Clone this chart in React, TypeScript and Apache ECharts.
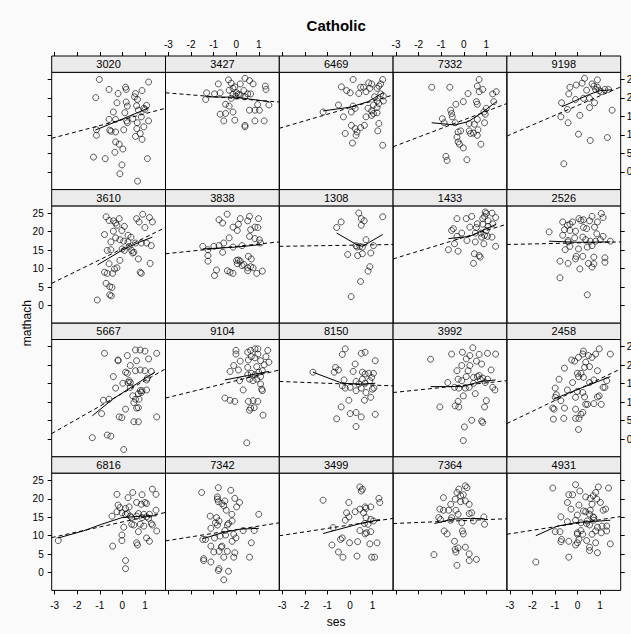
import React, { useEffect, useRef } from "react";
import * as echarts from "echarts";

// ---- data ----
const schools = ["3020","3427","6469","7332","9198","3610","3838","1308","1433","2526","5667","9104","8150","3992","2458","6816","7342","3499","7364","4931"];
const xTicks = [-3, -2, -1, 0, 1];
const yTicks = [0, 5, 10, 15, 20, 25];

const p3020 = [[-1.02,25.0],[1.16,24.3],[-0.59,22.3],[0.14,22.9],[0.17,22.3],[-0.19,21.2],[0.58,21.2],[0.87,22.0],[0.54,20.3],[-1.18,20.1],[0.67,19.6],[-0.24,18.7],[0.17,18.9],[0.22,17.8],[1.07,18.0],[0.63,17.9],[0.71,16.7],[0.95,17.2],[-0.40,16.2],[0.11,16.0],[1.0,16.9],[-0.59,14.2],[-0.30,14.2],[0.84,14.9],[0.46,14.4],[0.19,13.8],[0.22,13.3],[1.16,13.8],[0.66,13.3],[-1.15,11.4],[-0.56,11.3],[0.06,11.4],[0.95,12.2],[-1.15,9.9],[-0.30,10.8],[0.64,11.7],[0.79,10.4],[0.58,9.6],[0.87,8.8],[-0.30,8.1],[-0.14,7.5],[0.02,6.2],[-0.33,5.3],[-1.28,4.0],[-0.76,3.6],[1.11,3.6],[-0.02,1.9],[-0.11,-0.5],[0.67,-2.5],[-0.50,11.0]];
const p3427 = [[-0.34,24.9],[0.39,25.3],[0.59,24.7],[0.75,23.8],[-0.22,24.0],[-0.79,23.8],[-0.14,22.6],[-0.06,23.0],[0.18,23.8],[1.29,23.2],[1.32,22.3],[-1.31,21.4],[-0.96,21.1],[-0.71,21.4],[-0.31,22.1],[0.02,21.4],[0.34,22.0],[0.51,21.1],[0.64,21.1],[-1.35,19.6],[-0.22,19.9],[-0.01,20.5],[0.18,20.8],[0.38,20.3],[-0.47,18.3],[-0.31,17.8],[0.95,18.2],[1.45,18.1],[0.59,16.7],[0.83,16.7],[1.03,16.7],[-0.71,15.6],[-0.47,15.8],[-0.14,16.2],[-0.55,13.8],[-0.06,14.0],[0.39,12.6],[0.39,12.2],[0.83,13.8],[1.24,13.8],[0.10,21.0],[-0.14,21.0]];
const p6469 = [[0.14,25.0],[1.45,25.0],[0.83,24.1],[0.96,23.8],[1.36,23.8],[-0.38,23.0],[-0.15,22.0],[0.01,21.4],[0.47,22.9],[0.60,22.9],[0.39,21.2],[0.71,21.7],[0.88,22.6],[1.20,22.6],[1.28,23.2],[1.09,20.3],[1.36,21.1],[1.48,20.5],[1.20,19.2],[1.28,18.5],[1.48,19.2],[1.04,18.1],[-0.51,18.1],[0.14,17.8],[0.23,17.2],[0.80,17.2],[0.96,16.5],[1.04,15.8],[1.20,16.0],[-1.19,16.2],[0.06,16.2],[-0.29,14.9],[0.71,14.9],[0.06,12.6],[0.23,11.7],[0.47,12.0],[0.31,10.8],[0.27,9.9],[-0.21,10.4],[0.64,12.6],[1.28,13.1],[1.23,11.1],[0.11,7.8],[1.45,7.2],[1.20,17.4],[0.96,15.3]];
const p7332 = [[0.68,25.0],[-1.42,22.9],[-0.62,22.9],[0.60,23.2],[0.84,22.3],[0.19,21.2],[0.68,21.7],[1.44,21.7],[1.28,21.1],[0.56,19.0],[0.60,18.3],[-0.02,19.0],[-0.35,18.3],[-0.58,16.7],[-0.54,15.8],[-0.51,14.9],[-0.95,14.4],[-0.87,13.3],[-0.38,13.3],[1.33,19.0],[1.00,17.2],[0.89,16.2],[0.95,15.6],[0.60,14.2],[0.47,12.9],[0.24,13.1],[0.92,13.3],[-0.25,10.8],[-0.14,11.1],[0.24,11.1],[0.30,10.4],[0.43,10.5],[0.63,11.4],[0.60,9.9],[-0.30,9.4],[-0.25,8.1],[-0.19,7.5],[-0.02,6.5],[0.76,7.5],[-0.79,4.2],[-0.74,3.1],[0.14,3.3]];
const p9198 = [[0.31,25.3],[0.88,24.9],[-0.06,23.5],[-0.34,22.9],[0.20,24.0],[0.64,23.8],[0.72,23.2],[0.80,22.3],[0.96,22.0],[1.21,22.3],[1.37,22.3],[-0.39,21.1],[0.26,19.9],[0.53,19.9],[-0.09,19.6],[0.75,18.7],[-0.71,18.7],[-0.45,16.9],[0.53,17.4],[1.53,16.7],[-0.74,14.9],[0.10,15.3],[-0.42,13.3],[0.04,10.2],[0.56,8.5],[1.32,9.3],[-0.61,2.2],[0.88,22.9],[1.04,21.7],[0.40,22.1]];
const p3610 = [[-0.72,24.0],[-0.59,23.0],[-0.40,22.9],[-0.30,22.3],[-0.14,23.5],[-0.24,21.7],[0.09,21.4],[-0.02,20.3],[-0.79,19.2],[-0.40,20.1],[0.25,19.0],[0.38,18.5],[-0.30,18.3],[-0.11,17.8],[0.06,17.4],[-0.51,17.2],[0.25,17.2],[0.63,23.5],[0.74,22.6],[0.90,24.7],[1.20,23.8],[1.33,22.6],[1.0,21.1],[0.84,16.9],[1.07,16.9],[1.28,16.2],[-0.67,14.9],[-0.51,15.1],[-0.01,15.3],[0.41,14.9],[0.51,14.4],[0.46,14.2],[-0.11,12.2],[0.71,12.6],[1.23,11.4],[-0.59,11.3],[-0.79,9.0],[-0.67,8.7],[-0.43,8.7],[-0.35,9.9],[-0.24,10.2],[0.79,9.0],[0.84,8.7],[-0.72,6.0],[-0.56,5.1],[-0.46,4.9],[-0.56,2.9],[-0.49,2.6],[-1.11,1.5],[0.30,16.0],[0.58,16.9],[0.09,14.9]];
const p3838 = [[-0.76,23.2],[-0.60,22.3],[-0.40,24.7],[0.18,23.5],[0.59,24.1],[0.51,22.9],[0.99,23.5],[0.10,22.0],[-0.14,21.2],[0.05,20.3],[0.64,20.5],[0.83,21.2],[0.96,21.1],[-0.31,18.3],[0.59,18.7],[0.83,18.1],[1.03,17.8],[1.08,16.9],[-1.48,16.0],[-1.25,15.1],[-0.99,16.0],[-0.76,16.2],[-0.55,16.9],[-1.25,13.5],[-1.25,12.0],[-0.60,14.4],[-0.14,15.8],[0.26,16.2],[0.54,13.3],[0.67,12.6],[0.02,12.2],[0.10,12.3],[0.18,12.0],[0.26,10.8],[0.34,11.1],[0.51,10.2],[0.64,10.5],[0.75,10.2],[0.51,9.4],[0.91,8.7],[1.16,9.3],[-0.87,9.6],[-0.96,8.1],[-0.39,9.4],[-0.27,9.0],[-0.14,8.7],[0.05,11.3]];
const p1308 = [[0.39,25.0],[1.45,24.0],[0.50,23.5],[0.63,22.9],[-0.39,22.6],[-0.59,21.1],[0.50,21.7],[0.27,16.2],[0.44,16.0],[0.55,15.8],[0.71,17.8],[1.04,16.2],[-0.10,13.8],[0.34,13.5],[0.55,14.0],[0.92,14.2],[0.88,10.5],[0.80,9.3],[0.47,6.5],[0.05,2.4],[0.31,15.8]];
const p1433 = [[0.95,25.3],[1.25,25.0],[0.92,24.1],[1.41,23.8],[0.35,24.1],[0.11,23.5],[-0.30,23.5],[1.28,22.1],[0.84,22.0],[1.08,21.4],[-0.46,20.8],[-0.54,20.3],[0.27,21.2],[0.56,21.1],[1.00,20.3],[0.76,19.6],[1.25,18.5],[1.05,18.7],[0.92,19.0],[0.79,18.5],[0.51,19.6],[-0.09,19.6],[-0.30,18.7],[0.14,17.6],[0.51,17.2],[0.89,16.7],[-0.41,16.7],[1.41,16.0],[-0.68,15.1],[-0.25,14.7],[0.47,14.0],[0.73,13.1],[0.68,13.5],[0.43,11.4],[0.84,23.5],[1.08,22.9],[0.60,22.1],[1.00,24.9]];
const p2526 = [[1.05,24.9],[0.64,24.1],[0.15,23.0],[0.26,23.2],[0.53,22.9],[0.88,22.6],[1.13,23.8],[-0.66,22.6],[-0.45,21.7],[-0.34,22.0],[-0.22,22.6],[-1.26,19.9],[-0.58,20.5],[-0.34,20.3],[-0.09,20.1],[0.26,21.1],[0.40,20.8],[0.75,21.2],[-0.66,19.0],[-0.42,17.6],[-0.13,18.3],[0.23,18.5],[0.36,17.8],[0.56,17.4],[0.80,17.4],[1.01,17.8],[1.13,18.7],[1.45,17.4],[-0.42,17.2],[-0.55,15.1],[-0.34,16.0],[0.04,15.3],[0.43,15.8],[0.64,16.2],[-0.06,13.3],[0.23,13.3],[0.72,13.1],[-0.78,12.0],[-0.42,11.4],[-0.09,12.6],[0.48,11.4],[0.72,11.3],[1.21,12.9],[1.21,11.7],[0.10,9.9],[0.64,10.4],[-0.78,7.5],[0.43,2.9],[0.06,23.5],[0.85,19.4]];
const p5667 = [[-0.79,23.2],[-0.19,21.4],[-0.19,21.2],[0.22,22.6],[0.58,24.1],[0.79,24.1],[1.0,23.8],[1.16,21.7],[1.52,23.2],[0.63,21.2],[0.35,19.9],[0.58,18.5],[0.22,17.8],[0.14,18.1],[0.79,18.7],[1.0,18.5],[1.28,18.3],[-0.40,16.9],[0.30,15.8],[0.35,15.3],[0.02,15.1],[0.25,15.3],[1.11,16.5],[1.07,16.0],[-0.30,13.8],[0.35,14.0],[0.79,13.1],[1.07,13.3],[0.71,12.3],[0.84,12.6],[0.46,11.7],[0.58,10.8],[0.74,10.8],[0.51,9.9],[0.71,8.5],[0.63,8.4],[0.14,8.1],[-0.84,10.5],[-0.59,10.8],[-0.92,6.9],[-0.14,6.0],[-0.02,5.8],[0.51,4.7],[0.71,4.7],[1.52,6.0],[-1.33,0.4],[-0.67,1.1],[-0.51,0.8],[0.06,-2.8],[0.87,13.1]];
const p9104 = [[-0.01,24.0],[-0.01,23.0],[0.51,23.5],[0.64,24.0],[0.83,24.4],[0.96,24.4],[1.40,24.0],[0.67,22.3],[0.83,22.0],[0.18,21.1],[0.54,21.4],[1.08,21.2],[1.45,20.8],[-0.11,19.9],[-0.27,18.3],[0.10,18.7],[0.51,19.4],[0.91,19.6],[1.24,20.1],[0.67,17.8],[0.51,17.4],[0.83,17.4],[1.00,18.1],[1.08,16.9],[0.91,16.2],[0.15,15.8],[0.59,16.2],[0.75,15.8],[1.08,14.9],[1.13,13.5],[1.16,13.1],[0.31,13.3],[-0.50,11.1],[-0.27,10.5],[-0.06,10.2],[0.54,10.2],[0.75,10.4],[0.96,10.2],[0.64,8.4],[0.59,7.8],[0.80,8.5],[1.19,6.5],[0.47,-1.0],[1.32,22.3],[0.96,23.0],[1.16,18.5]];
const p8150 = [[-0.21,24.4],[-0.34,22.9],[0.50,23.2],[0.67,23.5],[-1.64,18.1],[-0.64,19.4],[-0.70,18.1],[-0.51,18.7],[0.23,20.3],[1.12,21.2],[0.14,18.3],[0.55,18.1],[0.67,17.6],[0.83,17.8],[1.04,17.8],[0.96,16.7],[-0.26,16.0],[-0.34,14.4],[-0.21,13.8],[0.27,15.6],[0.39,14.9],[0.50,13.8],[0.27,13.1],[0.67,15.1],[0.71,12.6],[0.99,13.5],[1.06,13.8],[-0.05,10.5],[0.64,10.5],[0.92,11.3],[-0.39,8.7],[0.01,6.9],[0.27,7.2],[0.50,6.0],[1.12,6.7],[-0.59,5.5],[0.27,3.4],[0.88,15.8],[0.55,16.2],[0.01,14.0]];
const p3992 = [[0.40,24.7],[-1.47,21.6],[-0.54,23.0],[-0.06,23.5],[0.27,22.6],[0.68,22.9],[1.05,23.2],[1.41,23.0],[0.11,21.7],[-0.09,19.9],[0.56,21.1],[0.79,20.3],[1.21,18.7],[0.19,18.5],[-0.30,18.5],[-0.71,15.3],[-0.25,16.2],[-0.09,15.8],[0.11,16.9],[0.43,16.7],[0.60,16.9],[0.73,16.2],[0.84,16.5],[1.05,16.2],[0.68,17.2],[-0.41,14.0],[-0.22,13.8],[0.24,14.0],[0.51,12.3],[0.07,13.8],[-0.02,11.7],[-0.25,10.2],[-0.38,9.0],[-0.22,8.7],[1.00,10.4],[0.92,8.7],[-1.06,8.7],[1.38,13.3],[1.28,14.0],[0.03,3.3],[0.35,5.1],[0.79,4.9],[0.84,4.5],[-0.02,-0.4],[0.27,19.9],[0.95,15.3],[0.43,15.1]];
const p2458 = [[0.26,23.8],[0.23,23.0],[0.96,24.4],[0.80,23.0],[1.45,23.0],[0.04,22.1],[-0.13,21.1],[0.48,22.6],[0.36,20.8],[-0.26,21.4],[0.31,19.4],[0.53,19.6],[-0.58,19.2],[-0.01,17.8],[0.15,17.8],[0.88,18.5],[-0.82,16.2],[-0.99,13.8],[0.04,16.9],[0.26,16.7],[-0.22,15.3],[0.53,15.3],[0.72,16.0],[1.29,15.8],[1.21,14.0],[1.13,14.0],[0.96,11.7],[0.88,11.4],[-0.94,12.0],[-0.99,11.3],[-0.45,13.3],[-0.01,12.9],[0.23,12.6],[-0.09,11.3],[0.31,11.4],[0.44,9.4],[0.72,9.6],[1.05,9.4],[-1.10,8.4],[-1.04,8.1],[-0.58,8.4],[-0.09,8.1],[0.23,7.2],[0.36,9.4],[0.15,6.7],[-1.07,5.4],[-0.61,5.6],[-0.09,5.6],[0.06,5.6],[0.04,2.6],[0.64,22.1],[-0.74,10.4]];
const p6816 = [[-2.84,8.7],[-0.24,21.2],[0.25,20.3],[0.46,21.7],[0.87,21.1],[1.33,22.6],[1.49,21.2],[-0.19,18.3],[-0.11,17.6],[0.14,17.4],[0.30,17.8],[0.63,19.0],[0.84,18.5],[1.0,19.0],[1.07,18.7],[1.49,16.9],[-0.46,15.3],[-0.24,16.5],[-0.02,16.2],[0.14,15.8],[0.35,15.3],[0.41,14.9],[0.63,15.3],[0.71,16.0],[0.87,14.9],[1.07,15.1],[1.20,15.8],[1.16,14.7],[0.41,13.1],[0.51,12.9],[0.79,13.1],[0.06,12.3],[0.95,12.6],[1.28,13.3],[1.33,12.9],[0.71,11.1],[1.52,11.3],[-0.02,10.2],[-0.02,8.7],[1.07,9.4],[1.20,8.5],[0.63,8.1],[0.67,7.5],[-0.43,7.2],[0.14,3.3],[0.14,1.1],[0.22,16.0],[0.95,15.8]];
const p7342 = [[-0.79,23.0],[-1.53,21.7],[-0.24,22.3],[-0.83,20.5],[-0.83,19.9],[-0.79,19.2],[-0.50,19.4],[-0.63,18.7],[-0.55,18.1],[-0.06,20.1],[0.15,19.0],[0.02,17.8],[-0.44,16.9],[1.0,15.8],[-0.19,15.8],[-1.15,15.3],[-0.87,14.9],[-0.76,14.0],[-0.92,13.5],[-0.83,12.9],[-0.34,13.3],[-0.39,12.9],[-0.18,14.0],[-1.12,12.0],[-0.50,11.4],[0.31,11.4],[0.80,11.4],[-1.36,9.0],[-0.96,9.4],[-0.71,9.9],[-0.47,10.2],[-0.11,10.4],[-0.01,9.4],[-0.18,8.5],[-1.48,9.0],[0.67,8.1],[-1.12,7.2],[-0.66,6.9],[-0.63,7.2],[-0.99,5.6],[-0.76,5.8],[-0.39,5.8],[-0.06,5.4],[-0.55,4.2],[-0.11,4.2],[-1.44,3.8],[-1.44,3.3],[-1.12,2.9],[0.59,4.2],[-0.76,1.1],[-0.79,0.6],[-0.34,0.4],[-0.55,-1.9]];
const p3499 = [[0.44,23.2],[0.55,22.6],[0.50,22.1],[-1.19,19.6],[-0.05,19.0],[1.28,20.1],[1.32,19.0],[0.67,17.8],[0.71,17.4],[0.92,17.8],[0.44,17.2],[-0.15,16.2],[-0.21,14.2],[-0.05,15.1],[0.71,14.9],[0.92,14.4],[1.04,14.0],[0.64,13.3],[0.80,13.1],[0.92,11.1],[0.67,10.5],[0.73,10.8],[-0.75,12.2],[-0.42,9.0],[0.44,11.4],[-0.02,8.1],[-0.34,9.4],[-0.80,7.5],[-0.51,5.6],[-0.31,4.2],[0.31,4.5],[0.34,8.4],[0.88,7.8],[1.20,8.1],[0.96,4.2],[1.09,4.2],[0.23,16.5],[0.60,16.2]];
const p7364 = [[0.07,23.5],[0.14,23.0],[-0.22,22.6],[-0.30,21.7],[-0.14,20.8],[-0.02,21.1],[-0.38,19.9],[-0.58,18.5],[-0.90,20.3],[-1.06,17.2],[-0.90,16.9],[-0.67,16.9],[-0.14,19.2],[0.07,19.4],[0.24,18.5],[-0.25,15.8],[0.24,16.0],[0.35,16.2],[0.89,15.1],[0.92,13.1],[0.43,14.0],[-0.09,13.5],[-1.11,14.9],[-1.03,14.4],[-0.54,14.9],[-0.87,11.3],[-0.74,10.5],[-0.06,11.3],[-0.02,10.5],[-0.41,8.5],[-0.38,6.3],[-0.25,6.7],[-0.35,5.6],[0.07,6.9],[0.24,5.1],[0.56,3.6],[0.24,3.3],[-0.30,2.0],[-1.32,4.9],[-0.58,14.2],[-0.35,16.9]];
const p4931 = [[-0.09,23.8],[-1.10,22.9],[-0.39,21.1],[-0.22,21.1],[0.10,22.1],[0.92,23.2],[1.37,22.9],[0.80,21.7],[0.36,20.5],[0.69,20.8],[-0.45,19.0],[0.06,18.3],[0.56,20.1],[0.85,19.9],[1.01,19.0],[0.56,16.9],[-0.29,17.2],[-0.01,15.6],[0.26,16.7],[0.36,16.5],[0.53,15.8],[0.72,14.9],[0.69,15.1],[1.13,16.9],[1.24,17.2],[-0.74,15.1],[-0.45,13.8],[-0.09,14.2],[0.15,13.5],[0.40,13.3],[0.53,12.9],[0.72,14.2],[0.88,12.3],[1.08,12.6],[1.29,12.6],[1.29,11.3],[0.80,11.3],[0.15,11.4],[-0.01,10.8],[0.23,10.4],[0.64,10.4],[1.05,10.8],[-0.78,11.1],[-0.71,9.0],[-0.74,8.4],[-0.39,8.5],[-0.01,10.4],[0.06,9.0],[-0.01,8.1],[-0.09,7.5],[0.40,8.7],[0.53,6.9],[0.80,8.1],[1.45,7.8],[0.53,6.0],[0.88,5.4],[-0.39,4.2],[-1.85,2.9],[-0.99,11.1],[0.64,18.5],[0.43,14.0]];

const points = [p3020,p3427,p6469,p7332,p9198,p3610,p3838,p1308,p1433,p2526,p5667,p9104,p8150,p3992,p2458,p6816,p7342,p3499,p7364,p4931];

// smooth (solid) curves per school
const smooths = [
  [[-1.2,11.3],[0,14.3],[1.16,17.3]],
  [[-1.35,20.3],[0,20.2],[0.6,19.7],[1.45,19.0]],
  [[-1.19,16.5],[0,17.5],[0.8,19.0],[1.48,21.5]],
  [[-1.42,13.3],[-0.4,12.7],[0.2,13.6],[0.8,16.0],[1.44,19.0]],
  [[-0.7,17.6],[0.5,20.9],[1.0,22.0],[1.53,22.2]],
  [[-1.1,11.0],[0,15.0],[0.7,17.0],[1.33,18.5]],
  [[-1.48,15.3],[0,15.8],[1.13,16.5]],
  [[-0.59,19.6],[0.23,16.7],[0.55,16.0],[1.45,19.2]],
  [[-0.68,18.1],[0.27,18.7],[1.44,22.0]],
  [[-1.26,17.4],[0,17.1],[1.45,17.2]],
  [[-1.33,6.3],[-0.43,10.8],[0.38,14.0],[1.44,18.1]],
  [[-0.5,16.0],[0.5,17.2],[1.45,18.3]],
  [[-1.64,18.1],[-0.34,15.1],[0.47,14.9],[1.12,15.1]],
  [[-1.47,14.2],[-0.06,14.2],[0.76,15.6],[1.41,16.0]],
  [[-1.07,10.8],[0.23,14.0],[1.45,16.9]],
  [[-2.84,9.4],[-1.73,11.3],[-0.92,13.1],[-0.02,14.9],[0.87,15.3],[1.52,15.4]],
  [[-1.48,9.2],[-0.5,11.0],[0.2,11.8],[1.0,12.0]],
  [[-1.19,10.6],[0.4,13.2],[1.32,14.4]],
  [[-1.3,13.3],[-0.5,14.5],[0.3,14.7],[0.92,14.6]],
  [[-1.85,10.0],[-0.9,12.6],[0,13.6],[0.8,13.9],[1.45,14.2]],
];

// dashed fitted line: value at the left and right edges of the panel
const fitLeft = [9.1, 21.4, 11.8, 6.8, 9.7, 6.0, 14.0, 16.0, 12.6, 16.5, 1.5, 11.1, 15.6, 12.6, 4.2, 9.5, 8.6, 10.0, 13.3, 10.4];
const fitRight = [17.2, 18.9, 20.8, 18.5, 23.0, 21.1, 17.2, 16.5, 22.0, 17.2, 19.0, 18.7, 14.4, 15.8, 19.0, 16.3, 13.5, 14.7, 14.6, 15.2];

// ---- layout ----
const XMIN = -3.13, XMAX = 1.91, YMIN = -4.78, YMAX = 26.94;
const L = 51.7, W = 113.8, T = 72.3, P = 133.6, H = 117.3, S = 16.3;
const FONT = '"Liberation Sans", Arial, Helvetica, sans-serif';

export default function App() {
  const ref = useRef<HTMLDivElement>(null);
  useEffect(() => {
    if (!ref.current) return;
    const chart = echarts.init(ref.current, undefined, { renderer: "svg" });
    const grid: any[] = [], xAxis: any[] = [], yAxis: any[] = [], series: any[] = [], graphic: any[] = [];
    schools.forEach((name, i) => {
      const r = Math.floor(i / 5), c = i % 5;
      const left = L + c * W, top = T + r * P;
      grid.push({ left, top, width: W, height: H, show: true, borderColor: "#000", borderWidth: 1, backgroundColor: "transparent", containLabel: false, outerBoundsMode: "none" });
      const xShow = r === 0 || r === 3;
      const xLab = r === 0 ? c % 2 === 1 : c % 2 === 0;
      xAxis.push({
        gridIndex: i, type: "value", min: XMIN, max: XMAX,
        position: r === 0 ? "top" : "bottom", offset: r === 0 ? S : 0, show: xShow,
        axisLine: { show: false, onZero: false },
        axisTick: { show: true, length: 4, customValues: xTicks, lineStyle: { color: "#000", width: 1 } },
        axisLabel: { show: xLab, customValues: xTicks, margin: r === 0 ? 7 : 10, fontSize: 10, color: "#000", fontFamily: FONT, hideOverlap: false },
        splitLine: { show: false },
      });
      const yShow = c === 0 || c === 4;
      const yLab = c === 0 ? r % 2 === 1 : r % 2 === 0;
      yAxis.push({
        gridIndex: i, type: "value", min: YMIN, max: YMAX,
        position: c === 0 ? "left" : "right", show: yShow,
        axisLine: { show: false, onZero: false },
        axisTick: { show: true, length: 4, customValues: yTicks, lineStyle: { color: "#000", width: 1 } },
        axisLabel: { show: yLab, customValues: yTicks, margin: c === 0 ? 8 : 6, fontSize: 10, color: "#000", fontFamily: FONT, hideOverlap: false },
        splitLine: { show: false },
      });
      series.push({
        type: "scatter", xAxisIndex: i, yAxisIndex: i, data: points[i], symbol: "circle", symbolSize: 6,
        itemStyle: { color: "rgba(0,0,0,0)", borderColor: "#000", borderWidth: 0.8 }, silent: true,
      });
      series.push({
        type: "line", xAxisIndex: i, yAxisIndex: i, data: smooths[i], showSymbol: false, symbol: "none",
        lineStyle: { color: "#000", width: 1, type: "solid" }, silent: true,
      });
      series.push({
        type: "line", xAxisIndex: i, yAxisIndex: i, data: [[XMIN, fitLeft[i]], [XMAX, fitRight[i]]], showSymbol: false, symbol: "none",
        lineStyle: { color: "#000", width: 1, type: [4, 3] }, silent: true, clip: true,
      });
      graphic.push({
        type: "rect", shape: { x: left, y: top - S, width: W, height: S },
        style: { fill: "#ebebeb", stroke: "#000", lineWidth: 1 }, silent: true,
      });
      graphic.push({
        type: "text", x: left + W / 2, y: top - S / 2,
        style: { text: name, textAlign: "center", textVerticalAlign: "middle", fontSize: 11, fontFamily: FONT, fill: "#000" }, silent: true,
      });
    });
    const cx = L + 2.5 * W;
    graphic.push({ type: "text", x: cx, y: 25, style: { text: "Catholic", textAlign: "center", textVerticalAlign: "middle", fontSize: 15, fontWeight: "bold", fontFamily: FONT, fill: "#000" } });
    graphic.push({ type: "text", x: cx, y: 622, style: { text: "ses", textAlign: "center", textVerticalAlign: "middle", fontSize: 12, fontFamily: FONT, fill: "#000" } });
    graphic.push({ type: "text", x: 27, y: (T - S + T + 3 * P + H) / 2, rotation: Math.PI / 2, style: { text: "mathach", textAlign: "center", textVerticalAlign: "middle", fontSize: 12, fontFamily: FONT, fill: "#000" } });

    chart.setOption({ animation: false, backgroundColor: "#fafafa", grid, xAxis, yAxis, series, graphic });
    return () => chart.dispose();
  }, []);
  return <div ref={ref} style={{ position: "absolute", left: 0, top: 0, width: 631, height: 634 }} />;
}
